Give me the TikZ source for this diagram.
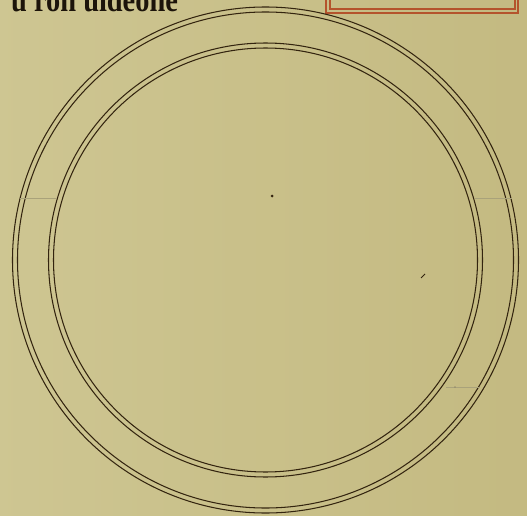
\documentclass[tikz,border=0pt]{standalone}
\usepackage{fontspec}
\newfontfamily\gothfont{Liberation Serif}
\definecolor{parch}{HTML}{C9C089}
\definecolor{parchlight}{HTML}{D4CD9C}
\definecolor{parchdark}{HTML}{BFB47A}
\definecolor{ink}{HTML}{33240F}
\definecolor{textink}{HTML}{1C140A}
\definecolor{faint}{HTML}{A9A27A}
\definecolor{rubric}{HTML}{B4532C}
\tikzset{
  ring/.style={draw=ink, line width=1.05pt},
  joinline/.style={draw=faint, line width=0.7pt},
  redbox/.style={draw=rubric, line width=1.1pt},
}
\begin{document}
\begin{tikzpicture}[x=1pt,y=-1pt]
\useasboundingbox (0,0) rectangle (527,516);
\shade[left color=parchlight, right color=parchdark] (0,0) rectangle (527,516);
\fill[parch, opacity=0.5] (0,0) rectangle (527,516);
% text at top left, cut by the page edge as in the reference
\begin{scope}
\clip (0,0) rectangle (527,516);
\node[anchor=base west, inner sep=0pt, text=textink] (title) at (11,12)
  {\scalebox{1.42}[1.7]{\gothfont\bfseries\fontsize{20}{20}\selectfont ū ron uideone}};
\end{scope}
% red box at top right
\draw[redbox] (326,-5) -- (326,13) -- (518,13) -- (518,-5);
\draw[redbox] (330,-5) -- (330,9) -- (515,9) -- (515,-5);
% rings
\coordinate (c) at (265.5,260);
\draw[ring] (c) circle[radius=253];
\draw[ring] (c) circle[radius=248];
\draw[ring] (c) circle[radius=217];
\draw[ring] (c) circle[radius=212];
% faint joins between rings
\draw[joinline] (20,198) -- (56,198);
\draw[joinline] (475,198) -- (512,198);
\draw[joinline] (446,387) -- (480,387);
% small marks
\fill[ink] (272,196) circle[radius=1.5];
\draw[ink, line width=0.8pt] (421,278) -- (425,274);
\fill[ink!70] (455,387) circle[radius=0.7];
\end{tikzpicture}
\end{document}
